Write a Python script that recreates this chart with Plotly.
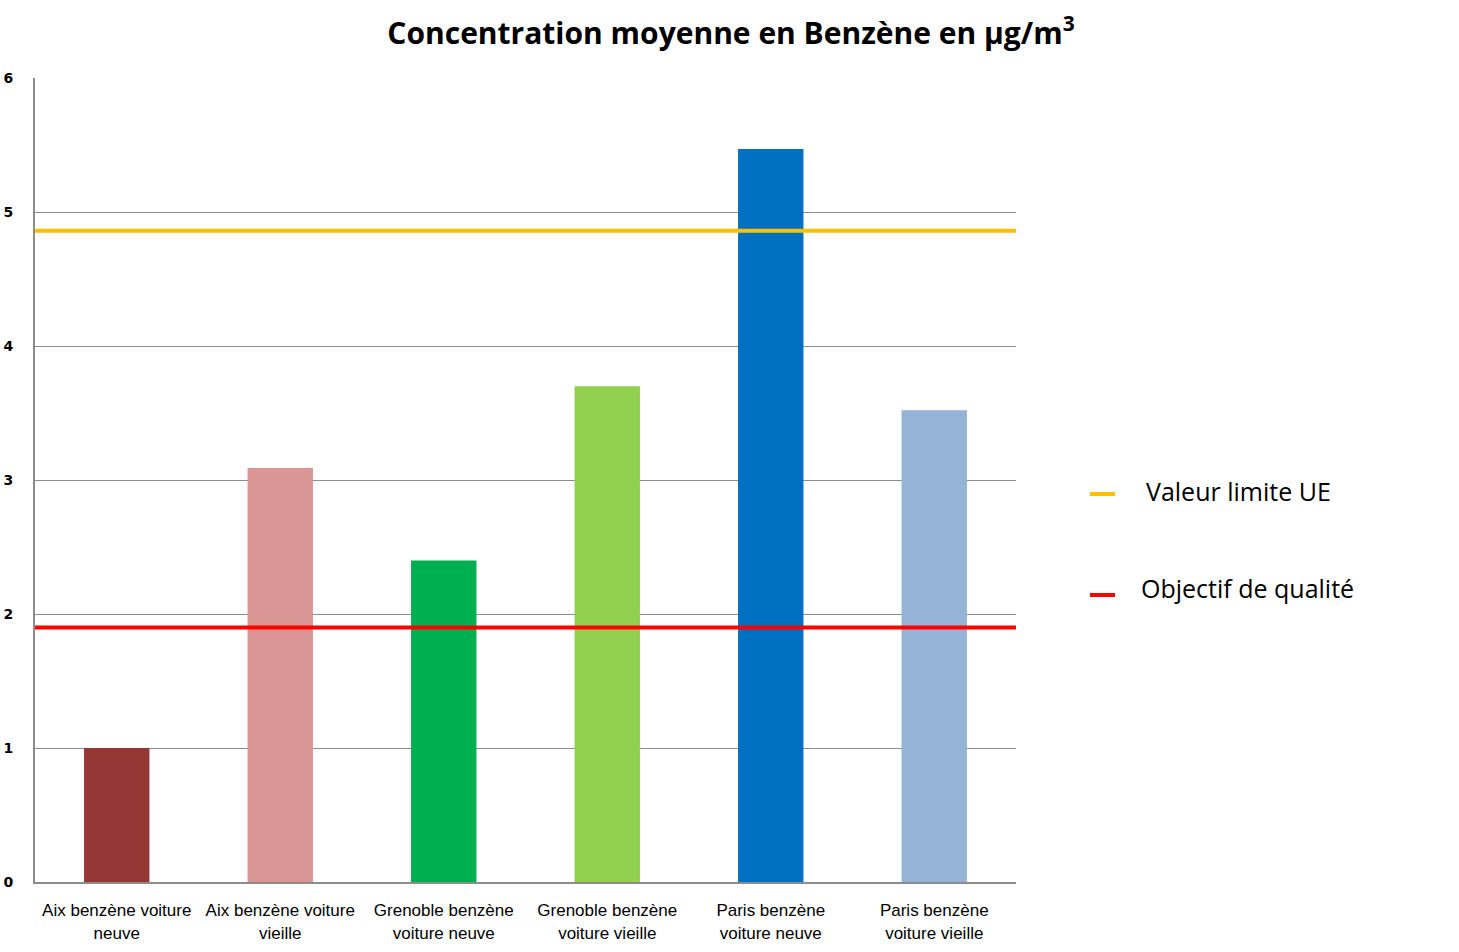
import plotly.graph_objects as go

categories = [
    "Aix benzène voiture<br>neuve",
    "Aix benzène voiture<br>vieille",
    "Grenoble benzène<br>voiture neuve",
    "Grenoble benzène<br>voiture vieille",
    "Paris benzène<br>voiture neuve",
    "Paris benzène<br>voiture vieille",
]
values = [1.0, 3.09, 2.4, 3.7, 5.47, 3.52]
bar_colors = ["#953735", "#D99694", "#00B050", "#92D050", "#0070C0", "#95B3D7"]

threshold_names = ["Valeur limite UE", "Objectif de qualité"]
threshold_values = [4.86, 1.9]
threshold_colors = ["#FFC000", "#FF0000"]

y_ticks = [0, 1, 2, 3, 4, 5, 6]

W, H = 1459, 952
ML, MR, MT, MB = 35, 443, 78, 70
PW, PH = W - ML - MR, H - MT - MB


def px_x(x):
    return (x - ML) / PW


def px_y(y):
    return (H - MB - y) / PH


fig = go.Figure()
fig.add_trace(go.Bar(
    x=categories, y=values, marker=dict(color=bar_colors, line=dict(width=0)),
    width=0.4, showlegend=False, hoverinfo="x+y",
))

shapes = []
annotations = []
legend_key_y = [494, 595]
legend_text_y = [491, 588]
text_x = [1144, 1139]
for i, (n, v, c) in enumerate(zip(threshold_names, threshold_values, threshold_colors)):
    shapes.append(dict(type="line", xref="x domain", yref="y", x0=0, x1=1, y0=v, y1=v,
                       line=dict(color=c, width=4), layer="above"))
    shapes.append(dict(type="line", xref="paper", yref="paper",
                       x0=px_x(1090), x1=px_x(1115),
                       y0=px_y(legend_key_y[i]), y1=px_y(legend_key_y[i]),
                       line=dict(color=c, width=4)))
    annotations.append(dict(xref="paper", yref="paper",
                            x=px_x(text_x[i]), y=px_y(legend_text_y[i]),
                            xanchor="left", yanchor="middle", showarrow=False,
                            text=n, font=dict(family="Open Sans", size=25, color="#000000")))

fig.update_layout(
    width=W, height=H,
    margin=dict(l=ML, r=MR, t=MT, b=MB, autoexpand=False),
    paper_bgcolor="white", plot_bgcolor="white",
    title=dict(text="<b>Concentration moyenne en Benzène en µg/m<sup>3</sup></b>",
               x=731 / W, xanchor="center", y=1 - 33 / H, yanchor="middle",
               font=dict(family="Open Sans", size=30, color="#000000")),
    shapes=shapes, annotations=annotations,
    bargap=0.6,
)
fig.update_yaxes(range=[0, 6], tickvals=y_ticks, showgrid=True, gridcolor="#8C8C8C", gridwidth=1,
                 showline=True, linecolor="#8C8C8C", linewidth=2, zeroline=False,
                 ticks="", ticklabelstandoff=17, automargin=False,
                 tickfont=dict(family="DejaVu Sans", size=14, color="#000000", weight="bold"))
fig.update_xaxes(showline=True, linecolor="#8C8C8C", linewidth=2, ticks="", automargin=False,
                 tickfont=dict(family="Liberation Sans Narrow, Liberation Sans", size=17, color="#000000"),
                 tickangle=0, ticklabelstandoff=12)

fig.write_html("out.html")
